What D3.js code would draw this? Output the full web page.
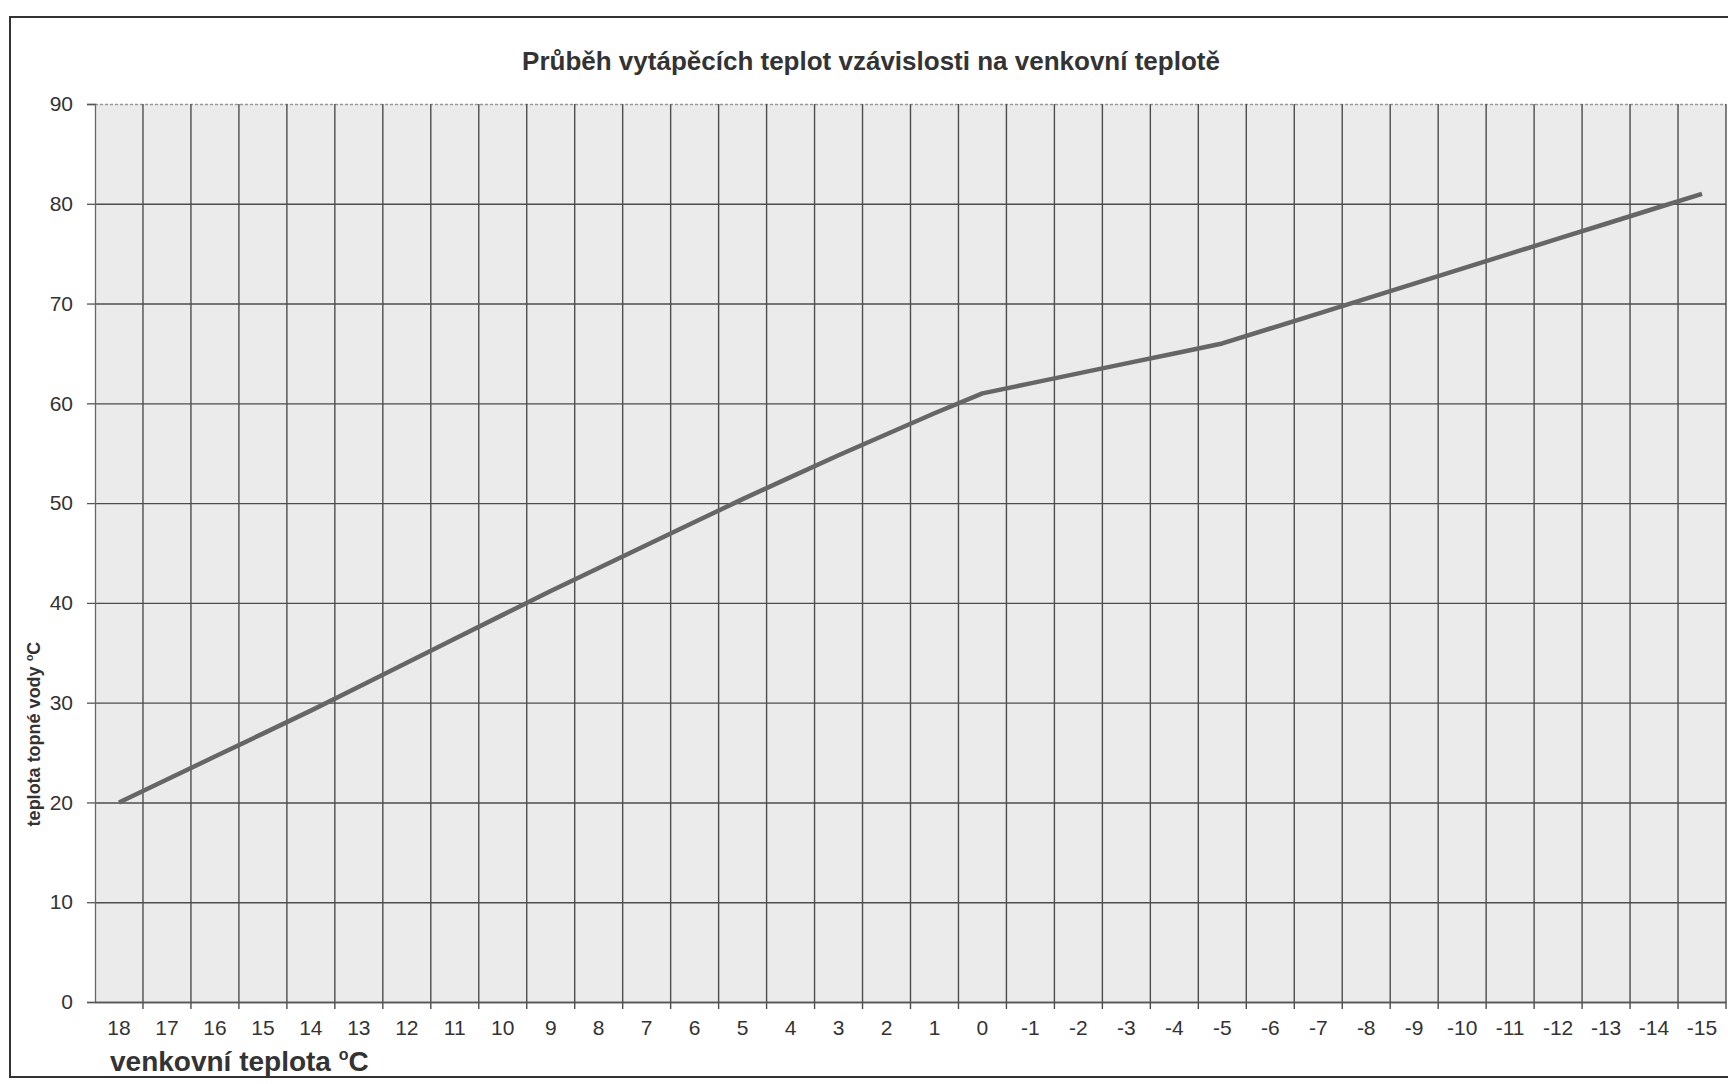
<!DOCTYPE html>
<html>
<head>
<meta charset="utf-8">
<script src="https://cdn.jsdelivr.net/npm/d3@7/dist/d3.min.js"></script>
<style>
  body { margin: 0; background: #fff; }
  text { font-family: "Liberation Sans", Arial, sans-serif; fill: #333; }
</style>
</head>
<body>
<div id="viz"></div>
<script>
// venkovni teplota (kategorie na ose x)
var outdoor = ["18","17","16","15","14","13","12","11","10","9","8","7","6","5","4","3","2","1","0",
               "-1","-2","-3","-4","-5","-6","-7","-8","-9","-10","-11","-12","-13","-14","-15"];
// teplota topne vody
var water = [20, 22.3, 24.6, 26.9, 29.2, 31.6, 34, 36.4, 38.8, 41.2, 43.5, 45.8, 48.1, 50.4, 52.6, 54.8, 56.9, 59, 61,
             62, 63, 64, 65, 66, 67.5, 69, 70.5, 72, 73.5, 75, 76.5, 78, 79.5, 81];
var yTicks = [0, 10, 20, 30, 40, 50, 60, 70, 80, 90];

var W = 1728, H = 1084;
var pLeft = 95, pRight = 1726, pTop = 104, pBottom = 1002;

var svg = d3.select("#viz")
  .append("svg")
  .attr("width", W)
  .attr("height", H);

// ramecek okolo
svg.append("rect")
  .attr("x", 10).attr("y", 17)
  .attr("width", 1760).attr("height", 1060)
  .attr("fill", "none")
  .attr("stroke", "#333")
  .attr("stroke-width", 2);

var x = d3.scaleBand().domain(outdoor).range([pLeft, pRight]).padding(0);
var y = d3.scaleLinear().domain([0, 90]).range([pBottom, pTop]);

// pozadi grafu
svg.append("rect")
  .attr("x", pLeft).attr("y", pTop)
  .attr("width", pRight - pLeft).attr("height", pBottom - pTop)
  .attr("fill", "#ebebeb");

// vodorovna mrizka
svg.append("g")
  .attr("transform", "translate(" + pLeft + ",0)")
  .call(d3.axisLeft(y).tickValues(yTicks).tickSize(-(pRight - pLeft)).tickFormat(""))
  .call(function(g) {
    g.select(".domain").remove();
    g.selectAll(".tick line")
      .attr("stroke", "#4d4d4d")
      .attr("stroke-width", 1.4)
      .filter(function(d) { return d === 90; })
      .attr("stroke", "#999")
      .attr("stroke-dasharray", "3,2");
  });

// svisla mrizka na hranicich kategorii
var bounds = outdoor.slice(1).map(function(d) { return x(d); }).concat([pRight]);
svg.append("g").selectAll("line")
  .data(bounds)
  .enter()
  .append("line")
  .attr("x1", function(d) { return d; })
  .attr("x2", function(d) { return d; })
  .attr("y1", pTop)
  .attr("y2", pBottom + 7)
  .attr("stroke", "#4d4d4d")
  .attr("stroke-width", 1.4);

// osa y
svg.append("g")
  .attr("transform", "translate(" + pLeft + ",0)")
  .call(d3.axisLeft(y).tickValues(yTicks).tickSize(8).tickPadding(14))
  .call(function(g) {
    g.select(".domain").attr("stroke", "#666").attr("stroke-width", 1.3);
    g.selectAll(".tick line").attr("stroke", "#555").attr("stroke-width", 1.3);
    g.selectAll(".tick text").style("font-size", "21px");
  });

// osa x
svg.append("g")
  .attr("transform", "translate(0," + pBottom + ")")
  .call(d3.axisBottom(x).tickSize(0).tickPadding(18))
  .call(function(g) {
    g.select(".domain").attr("stroke", "#555").attr("stroke-width", 1.3);
    g.selectAll(".tick text").style("font-size", "21px");
  });

// krivka
var line = d3.line()
  .x(function(d, i) { return x(outdoor[i]) + x.bandwidth() / 2; })
  .y(function(d) { return y(d); });

svg.append("path")
  .datum(water)
  .attr("d", line)
  .attr("fill", "none")
  .attr("stroke", "#666")
  .attr("stroke-width", 4.5)
  .attr("stroke-linejoin", "round");

// nadpis
svg.append("text")
  .attr("x", 871).attr("y", 70)
  .attr("text-anchor", "middle")
  .style("font-size", "26px")
  .style("font-weight", "bold")
  .text("Průběh vytápěcích teplot vzávislosti na venkovní teplotě");

// popis osy x
var xt = svg.append("text")
  .attr("x", 110).attr("y", 1071)
  .style("font-size", "28px")
  .style("font-weight", "bold");
xt.append("tspan").text("venkovní teplota ");
xt.append("tspan").attr("dy", "-11").style("font-size", "16px").text("o");
xt.append("tspan").attr("dy", "11").text("C");

// popis osy y
var yt = svg.append("text")
  .attr("transform", "translate(40,734) rotate(-90)")
  .attr("text-anchor", "middle")
  .style("font-size", "18px")
  .style("font-weight", "bold");
yt.append("tspan").text("teplota topné vody ");
yt.append("tspan").attr("dy", "-7").style("font-size", "11px").text("o");
yt.append("tspan").attr("dy", "7").text("C");
</script>
</body>
</html>
